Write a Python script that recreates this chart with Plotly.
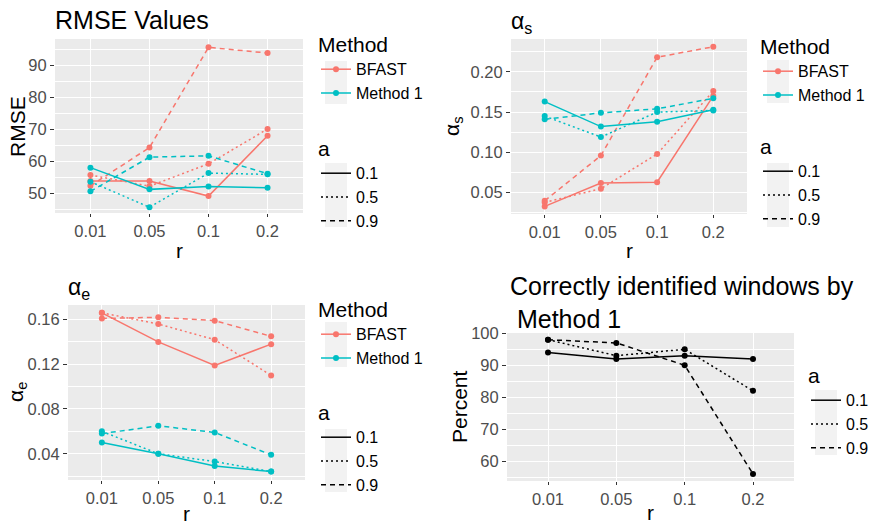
import plotly.graph_objects as go

# ---------------- data ----------------
r_labels = ["0.01", "0.05", "0.1", "0.2"]
a_levels = ["0.1", "0.5", "0.9"]
methods = ["BFAST", "Method 1"]

rmse_bfast_a01 = [53.8, 53.8, 49.1, 68.0]
rmse_bfast_a05 = [55.7, 52.2, 59.2, 70.1]
rmse_bfast_a09 = [52.3, 64.3, 95.7, 93.9]
rmse_m1_a01 = [58.0, 51.2, 52.1, 51.7]
rmse_m1_a05 = [53.6, 45.6, 56.3, 55.9]
rmse_m1_a09 = [50.6, 61.3, 61.7, 56.1]

as_bfast_a01 = [0.033, 0.062, 0.063, 0.170]
as_bfast_a05 = [0.038, 0.055, 0.098, 0.176]
as_bfast_a09 = [0.040, 0.096, 0.218, 0.231]
as_m1_a01 = [0.163, 0.132, 0.138, 0.153]
as_m1_a05 = [0.145, 0.119, 0.150, 0.152]
as_m1_a09 = [0.141, 0.149, 0.154, 0.167]

ae_bfast_a01 = [0.166, 0.140, 0.119, 0.138]
ae_bfast_a05 = [0.166, 0.156, 0.142, 0.110]
ae_bfast_a09 = [0.161, 0.162, 0.159, 0.145]
ae_m1_a01 = [0.050, 0.040, 0.029, 0.024]
ae_m1_a05 = [0.060, 0.040, 0.033, 0.024]
ae_m1_a09 = [0.058, 0.065, 0.059, 0.039]

pct_a01 = [94, 92, 93, 92]
pct_a05 = [98, 93, 95, 82]
pct_a09 = [98, 97, 90, 56]

# ---------------- styles ----------------
W, H = 874, 524
FONT = "Liberation Sans, Arial, sans-serif"
COL = {"BFAST": "#F8766D", "Method 1": "#00BFC4"}
DASH = {"0.1": "solid", "0.5": "2px,3px", "0.9": "5px,4px"}
PANEL = "#EBEBEB"
TICKC = "#4D4D4D"
TICKSIZE = 16.5


def px(x):
    return x / W


def py(y):
    return 1 - y / H


fig = go.Figure()

panels = [
    dict(k="", xd=(55, 303), yd=(39, 213), yr=[43.8, 98.3], yt=[50, 60, 70, 80, 90], minor=5, fmt="d"),
    dict(k="2", xd=(511, 747), yd=(39, 214), yr=[0.0236, 0.2406], yt=[0.05, 0.10, 0.15, 0.20], minor=0.025, fmt=".2f"),
    dict(k="3", xd=(68, 305), yd=(305, 480), yr=[0.0165, 0.1730], yt=[0.04, 0.08, 0.12, 0.16], minor=0.02, fmt=".2f"),
    dict(k="4", xd=(507, 794), yd=(333, 481), yr=[53.8, 100.1], yt=[60, 70, 80, 90, 100], minor=5, fmt="d"),
]

for p in panels:
    k = p["k"]
    fig.layout["xaxis" + k] = dict(
        domain=[px(p["xd"][0]), px(p["xd"][1])],
        anchor="y" + k,
        type="category",
        categoryorder="array",
        categoryarray=r_labels,
        range=[-0.6, 3.6],
        showgrid=True, gridcolor="white", gridwidth=1.1,
        zeroline=False, showline=False,
        ticks="outside", ticklen=3, tickcolor="#333333", tickwidth=1,
        tickfont=dict(family=FONT, size=TICKSIZE, color=TICKC),
        automargin=False, fixedrange=True,
    )
    fig.layout["yaxis" + k] = dict(
        domain=[py(p["yd"][1]), py(p["yd"][0])],
        anchor="x" + k,
        range=p["yr"],
        tickvals=p["yt"],
        tickformat=p["fmt"],
        showgrid=True, gridcolor="white", gridwidth=1.1,
        minor=dict(dtick=p["minor"], tick0=0, showgrid=True, gridcolor="white", gridwidth=0.5, ticks=""),
        zeroline=False, showline=False,
        ticks="outside", ticklen=4, tickcolor="#333333", tickwidth=1,
        tickfont=dict(family=FONT, size=TICKSIZE, color=TICKC),
        automargin=False, fixedrange=True,
    )
    fig.add_shape(type="rect", xref="paper", yref="paper",
                  x0=px(p["xd"][0]), x1=px(p["xd"][1]),
                  y0=py(p["yd"][1]), y1=py(p["yd"][0]),
                  fillcolor=PANEL, line_width=0, layer="below")


def add_series(k, method, a, vals, color):
    fig.add_trace(go.Scatter(
        x=r_labels, y=vals, mode="lines+markers",
        line=dict(color=color, width=1.5, dash=DASH[a]),
        marker=dict(color=color, size=6),
        xaxis="x" + k, yaxis="y" + k, showlegend=False,
        name=f"{method}, a={a}", hoverinfo="x+y+name",
    ))


series_sets = [
    ("", [rmse_bfast_a01, rmse_bfast_a05, rmse_bfast_a09], [rmse_m1_a01, rmse_m1_a05, rmse_m1_a09]),
    ("2", [as_bfast_a01, as_bfast_a05, as_bfast_a09], [as_m1_a01, as_m1_a05, as_m1_a09]),
    ("3", [ae_bfast_a01, ae_bfast_a05, ae_bfast_a09], [ae_m1_a01, ae_m1_a05, ae_m1_a09]),
]
for k, bf, m1 in series_sets:
    for a, v in zip(a_levels, bf):
        add_series(k, "BFAST", a, v, COL["BFAST"])
    for a, v in zip(a_levels, m1):
        add_series(k, "Method 1", a, v, COL["Method 1"])
for a, v in zip(a_levels, [pct_a01, pct_a05, pct_a09]):
    add_series("4", "Method 1", a, v, "black")

# ---------------- legends ----------------
legend_specs = [
    ("legend", "", "method", 336, 25),
    ("legend2", "", "a", 336, 129),
    ("legend3", "2", "method", 778, 27),
    ("legend4", "2", "a", 778, 127),
    ("legend5", "3", "method", 336, 290),
    ("legend6", "3", "a", 336, 393),
    ("legend7", "4", "a", 826, 356),
]
for lid, k, kind, cx, top in legend_specs:
    if kind == "method":
        for m in methods:
            fig.add_trace(go.Scatter(
                x=[None], y=[None], mode="lines+markers", name=m,
                line=dict(color=COL[m], width=1.5), marker=dict(color=COL[m], size=6),
                xaxis="x" + k, yaxis="y" + k, legend=lid, showlegend=True))
        title = "Method"
    else:
        for a in a_levels:
            fig.add_trace(go.Scatter(
                x=[None], y=[None], mode="lines", name=a,
                line=dict(color="black", width=1.5, dash=DASH[a]),
                xaxis="x" + k, yaxis="y" + k, legend=lid, showlegend=True))
        title = "a"
    fig.layout[lid] = dict(
        x=px(cx - 20), y=py(top), xanchor="left", yanchor="top",
        bgcolor="rgba(0,0,0,0)", borderwidth=0,
        font=dict(family=FONT, size=16, color="black"),
        title=dict(text=title, font=dict(family=FONT, size=21, color="black")),
        itemclick=False, itemdoubleclick=False, tracegroupgap=0,
    )

key_boxes = [
    (325, 347, 61, 104), (325, 347, 163, 227),
    (767, 789, 60, 103), (767, 789, 163, 227),
    (325, 347, 322, 367), (325, 347, 429, 492),
    (815, 837, 390, 455),
]
for x0, x1, y0, y1 in key_boxes:
    fig.add_shape(type="rect", xref="paper", yref="paper",
                  x0=px(x0), x1=px(x1), y0=py(y1), y1=py(y0),
                  fillcolor="#F2F2F2", line_width=0, layer="below")

# ---------------- titles ----------------
ann = []


def text(x, y, s, size, xanchor="left", angle=0, color="black"):
    ann.append(dict(x=px(x), y=py(y), xref="paper", yref="paper", text=s,
                    showarrow=False, xanchor=xanchor, yanchor="middle", textangle=angle,
                    align="left", font=dict(family=FONT, size=size, color=color)))


text(53, 20, "RMSE Values", 25)
text(509, 22, "α<sub>s</sub>", 23)
text(66, 288, "α<sub>e</sub>", 23)
text(508, 302, "Correctly identified windows by<br>\u00a0Method 1", 25)

text(179, 250, "r", 21, "center")
text(629, 250, "r", 21, "center")
text(186, 513, "r", 21, "center")
text(650, 512, "r", 21, "center")
text(17, 127, "RMSE", 21, "center", -90)
text(453, 127, "α<sub>s</sub>", 21, "center", -90)
text(17, 392, "α<sub>e</sub>", 21, "center", -90)
text(459, 407, "Percent", 21, "center", -90)

fig.update_layout(
    width=W, height=H,
    margin=dict(l=0, r=0, t=0, b=0),
    paper_bgcolor="white", plot_bgcolor=PANEL,
    annotations=ann,
    font=dict(family=FONT),
    hovermode="closest",
)

fig.write_html(
    "out.html",
    config={"displayModeBar": False},
    post_script="document.body.style.margin='0';document.body.style.overflow='hidden';",
)
